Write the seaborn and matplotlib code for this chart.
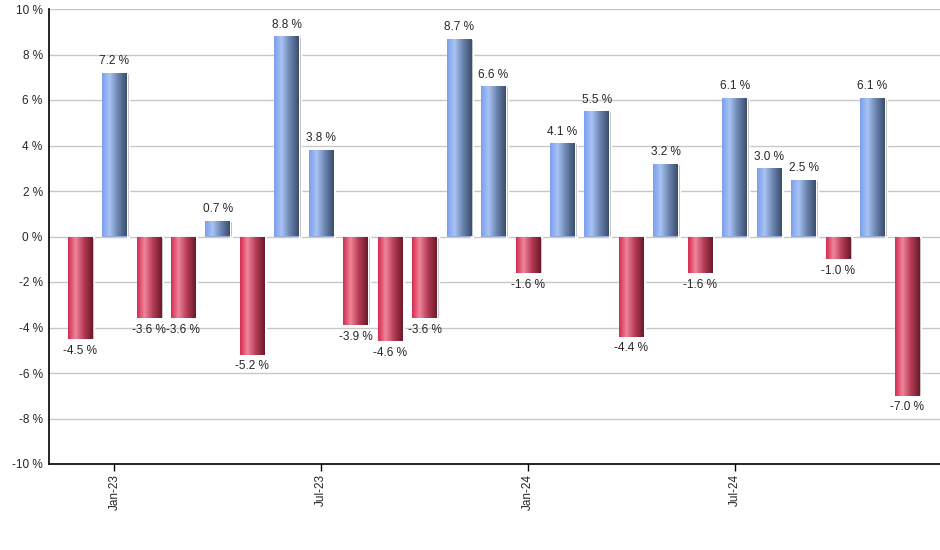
import matplotlib
matplotlib.use("Agg")
import matplotlib.pyplot as plt
import seaborn as sns
import pandas as pd
import numpy as np
from matplotlib.colors import LinearSegmentedColormap

# monthly returns, Dec-22 .. Dec-24
months = pd.date_range("2022-12-01", periods=25, freq="MS")
values = [-4.5, 7.2, -3.6, -3.6, 0.7, -5.2, 8.8, 3.8, -3.9, -4.6, -3.6, 8.7, 6.6,
          -1.6, 4.1, 5.5, -4.4, 3.2, -1.6, 6.1, 3.0, 2.5, -1.0, 6.1, -7.0]
tick_months = ["Jan-23", "Jul-23", "Jan-24", "Jul-24"]
yticks = [-10, -8, -6, -4, -2, 0, 2, 4, 6, 8, 10]

df = pd.DataFrame({"month": months.strftime("%b-%y"), "ret": values})
df["sign"] = np.where(df["ret"] >= 0, "pos", "neg")

sns.set_style("white")
plt.rcParams["font.family"] = ["Liberation Sans", "DejaVu Sans"]

fig = plt.figure(figsize=(9.4, 5.5), dpi=100)
ax = fig.add_axes([49 / 940, 1 - 464 / 550, 1 - 49 / 940, 455 / 550])

sns.barplot(data=df, x="month", y="ret", hue="sign", dodge=False, width=0.72,
            palette={"pos": "#8aa9e8", "neg": "#d8345a"}, legend=False, ax=ax,
            linewidth=0, zorder=3)

blue_cm = LinearSegmentedColormap.from_list(
    "b", [(0, "#7b9fec"), (0.3, "#a9c3f4"), (0.65, "#6a83ad"), (1, "#3b4d6c")])
red_cm = LinearSegmentedColormap.from_list(
    "r", [(0, "#d42c52"), (0.3, "#ef8599"), (0.65, "#b43a55"), (1, "#6b1a2c")])
grad = np.linspace(0, 1, 64).reshape(1, -1)

bars = list(ax.patches)
for p in bars:
    x0, y0 = p.get_x(), p.get_y()
    w, h = p.get_width(), p.get_height()
    idx = int(round(x0 + w / 2))
    v = df["ret"].iloc[idx]
    # small grey shadow on the right
    ax.bar(x0 + w, h, width=0.05, bottom=y0, align="edge",
           color="#a0a0a0", zorder=2)
    im = ax.imshow(grad, cmap=blue_cm if v >= 0 else red_cm, aspect="auto",
                   extent=(x0, x0 + w, y0, y0 + h), zorder=4)
    im.set_clip_path(p)
    if v >= 0:
        ax.text(x0 + w / 2, v + 0.25, f"{v:.1f} %", ha="center", va="bottom",
                fontsize=8.5, zorder=5)
    else:
        ax.text(x0 + w / 2, v - 0.25, f"{v:.1f} %", ha="center", va="top",
                fontsize=8.5, zorder=5)

ax.set_xlim(-0.9, 24.96)
ax.set_ylim(-10, 10)
ax.set_yticks(yticks)
ax.set_yticklabels([f"{t} %" for t in yticks], fontsize=8.5)
pos = [list(df["month"]).index(m) for m in tick_months]
ax.set_xticks(pos)
ax.set_xticklabels(tick_months, rotation=90, fontsize=8.5)
ax.tick_params(axis="x", bottom=True, length=5, width=1, color="black", pad=2)
ax.tick_params(axis="y", left=False, pad=1)
ax.set_xlabel("")
ax.set_ylabel("")
ax.yaxis.grid(True, color="#c8c8c8", linewidth=1, zorder=0)
ax.set_axisbelow(True)
for s in ["top", "right"]:
    ax.spines[s].set_visible(False)
for s in ["left", "bottom"]:
    ax.spines[s].set_color("black")
    ax.spines[s].set_linewidth(1.2)

fig.savefig("out.png", dpi=100)
